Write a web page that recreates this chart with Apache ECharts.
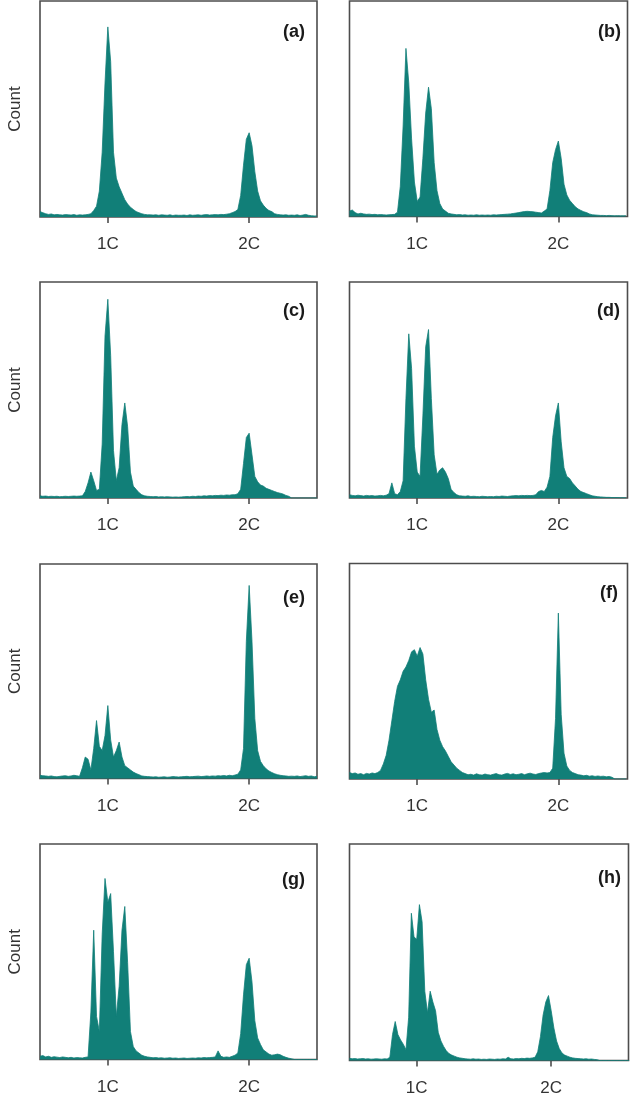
<!DOCTYPE html>
<html><head><meta charset="utf-8">
<script src="https://cdn.jsdelivr.net/npm/echarts@6/dist/echarts.min.js"></script>
<style>html,body{margin:0;padding:0;background:#fff}#c{width:633px;height:1108px}</style>
</head><body><div id="c"></div>
<script>
// ---- data ----
const tickValues = [1, 2];
const tickLabels = ['1C', '2C'];
const panelLabels = ['(a)', '(b)', '(c)', '(d)', '(e)', '(f)', '(g)', '(h)'];
const yName = 'Count';
const binWidth = 0.02;
const binStart = [0.52, 0.52, 0.52, 0.52, 0.52, 0.52, 0.52, 0.50];

const countA = [2.5, 2, 1.5, 1.2, 1.4, 1, 1.2, 1, 0.9, 1.1,
 1, 0.9, 1.1, 0.8, 1, 0.9, 1, 1.2, 1.5, 3,
 5, 12, 30, 62, 88, 72, 30, 18, 14, 11,
 8, 6, 4.5, 3.5, 2.5, 2, 1.5, 1.2, 1, 1,
 0.9, 1, 0.8, 1, 0.9, 0.8, 1, 0.7, 0.9, 0.8,
 0.8, 0.9, 0.7, 1, 0.8, 0.9, 1, 0.8, 1, 1.1,
 0.9, 1, 1.1, 1, 1.2, 1.1, 1.3, 1.5, 2, 2.5,
 3.5, 10, 24, 36, 39, 33, 21, 12, 7.5, 5.5,
 4, 3, 2.5, 1.5, 1.2, 1, 0.9, 1, 0.8, 0.9,
 0.8, 1, 0.7, 0.9, 1.2, 0.8, 0.6, 0.5, 0.5];

const countB = [2.5, 3, 1.8, 1.2, 1.5, 1.2, 1, 1.1, 0.9, 1,
 0.8, 0.9, 0.8, 0.7, 0.8, 0.9, 1, 2, 14, 42,
 78, 62, 36, 16, 7, 9, 27, 48, 60, 50,
 25, 12, 6, 3.5, 2.5, 1.5, 1.2, 1, 0.8, 0.9,
 0.7, 0.8, 0.6, 0.7, 0.6, 0.8, 0.6, 0.7, 0.6, 0.7,
 0.6, 0.8, 0.7, 0.8, 0.9, 1, 1.1, 1.2, 1.4, 1.6,
 1.8, 2.1, 2.3, 2.4, 2.3, 2.2, 2, 1.8, 1.6, 2.5,
 3.5, 12, 25, 31, 35, 27, 15, 10, 7.5, 6,
 4.5, 3.5, 2.8, 2.2, 1.8, 1.2, 0.8, 0.7, 0.6, 0.5,
 0.5, 0.4, 0.5, 0.4, 0.3, 0.4, 0.3, 0.3, 0.3];

const countC = [1, 0.8, 0.9, 0.7, 0.8, 0.7, 0.8, 0.6, 0.7, 0.8,
 0.7, 0.8, 0.9, 0.8, 0.9, 1, 3, 7, 12, 8,
 3.5, 4, 25, 75, 92, 66, 22, 8, 14, 34,
 44, 33, 12, 5.5, 4, 2.5, 1.5, 1, 0.8, 0.7,
 0.6, 0.7, 0.5, 0.6, 0.5, 0.6, 0.5, 0.4, 0.5, 0.4,
 0.5, 0.6, 0.7, 0.6, 0.8, 0.7, 0.9, 0.8, 1, 0.9,
 1.1, 1, 1.2, 1.1, 1.3, 1.2, 1.4, 1.3, 1.5, 1.5,
 2, 4, 16, 28, 30, 20, 10, 7.5, 6, 5.5,
 4.5, 4, 3.5, 3, 2.5, 2.2, 1.8, 1.2, 0.8, 0,
 0, 0, 0, 0, 0, 0, 0, 0, 0];

const countD = [1.5, 1.2, 1, 1.3, 1.1, 0.9, 1.2, 1, 1.1, 0.9,
 1, 1.2, 1, 1.3, 2, 7, 2, 1.5, 3, 8,
 46, 76, 60, 24, 12, 10, 38, 70, 78, 46,
 20, 11, 13, 14, 12, 9, 4, 2.5, 1.5, 1,
 0.9, 0.8, 1, 0.7, 0.8, 0.7, 0.6, 0.8, 0.7, 0.6,
 0.7, 0.6, 0.8, 0.7, 0.9, 0.8, 0.7, 0.9, 1, 1.1,
 1, 1.2, 1.1, 1.2, 1.1, 1.2, 1.5, 3, 3.5, 3,
 5, 10, 28, 38, 44, 26, 14, 10, 9, 7,
 5.5, 4, 3, 2.5, 2, 1.5, 1, 0.8, 0.6, 0.5,
 0.4, 0.3, 0.3, 0.2, 0.2, 0.2, 0.1, 0.1, 0.1];

const countE = [1.5, 1.3, 1.2, 1, 1.2, 0.9, 0.8, 1, 1.2, 1.3,
 1, 1.2, 1.5, 1.3, 1, 5, 10, 9, 4, 14,
 27, 15, 13, 20, 34, 18, 10, 13, 17, 10,
 6, 5, 4, 3, 2.3, 1.8, 1.2, 1, 0.9, 0.8,
 0.7, 0.8, 0.6, 0.7, 0.8, 0.6, 0.7, 0.9, 0.8, 0.7,
 0.8, 0.9, 1, 0.8, 0.9, 1, 1.1, 0.9, 1, 1.2,
 1, 1.2, 1.1, 1.3, 1.2, 1.4, 1.2, 1.5, 1.3, 1.6,
 2, 4, 14, 64, 90, 64, 28, 13, 8, 6,
 4.5, 3.5, 2.8, 2.2, 1.8, 1.5, 1.3, 1.2, 1, 1.1,
 1, 1.2, 0.9, 1.1, 1.3, 1, 1.2, 0.8, 1];

const countF = [3, 2.5, 2.8, 2.2, 2.5, 2, 2.6, 2.3, 2.8, 2.5,
 3, 4, 7, 11, 18, 27, 36, 43, 46, 50,
 52, 55, 59, 60, 57, 61, 58, 46, 37, 31,
 32, 23, 18, 15, 13, 10.5, 8, 6.5, 5, 4,
 3, 2.5, 2, 2.2, 1.8, 2.4, 2, 1.8, 2.3, 2,
 1.8, 2.2, 2.5, 2, 1.8, 2.3, 2.6, 2.1, 2.4, 2,
 2.2, 2.5, 2, 2.4, 2.7, 2.3, 2.1, 2.5, 2.8, 3,
 2.8, 3, 5, 28, 77, 30, 12, 6, 4, 3,
 2.5, 2, 1.8, 1.5, 1.7, 1.3, 1.5, 1.2, 1.4, 1.2,
 1.3, 1, 1.2, 0.8, 0, 0, 0, 0, 0];

const countG = [1.5, 1.8, 1.2, 1.5, 1, 1.3, 1.1, 0.9, 1.2, 1,
 0.8, 1, 0.7, 0.9, 0.8, 0.7, 1, 1.2, 22, 60,
 20, 13, 58, 84, 73, 77, 50, 20, 34, 60,
 71, 45, 13, 6, 4, 3, 2, 1.5, 1.2, 1,
 0.8, 0.9, 0.7, 0.8, 0.6, 0.7, 0.8, 0.6, 0.7, 0.5,
 0.6, 0.7, 0.5, 0.6, 0.7, 0.6, 0.8, 0.7, 0.9, 0.8,
 0.9, 1, 1.2, 4, 1.5, 1, 1.2, 1, 1.5, 2,
 3, 12, 30, 44, 47, 36, 18, 10, 7, 4.5,
 3.5, 2.5, 2, 2.2, 2.5, 2.2, 1.5, 1, 0.6, 0.3,
 0, 0, 0, 0, 0, 0, 0, 0, 0];

const countH = [1, 0.8, 0.9, 0.7, 0.8, 0.9, 0.7, 0.8, 0.6, 0.7,
 0.8, 0.7, 0.6, 0.8, 0.7, 1.5, 12, 18, 12, 9.5,
 7.5, 5, 20, 68, 57, 56, 72, 64, 32, 22,
 32, 27, 23, 13, 9, 6.5, 4.5, 3.2, 2.5, 2,
 1.5, 1.2, 1, 0.8, 0.7, 0.6, 0.8, 0.6, 0.7, 0.5,
 0.6, 0.5, 0.7, 0.6, 0.5, 0.7, 0.6, 0.8, 0.7, 1.5,
 0.8, 0.7, 0.9, 0.8, 1, 0.9, 1.1, 1, 1.2, 1.5,
 4, 11, 21, 27, 30, 23, 15, 9, 5.5, 3.5,
 2.5, 2, 1.5, 1.2, 1, 0.9, 0.8, 0.7, 0.8, 0.6,
 0.7, 0.5, 0.4, 0, 0, 0, 0, 0, 0, 0,
 0, 0, 0, 0, 0];

const panelCounts = [countA, countB, countC, countD, countE, countF, countG, countH];

// ---- layout (positions / styles) ----
const layout = [
  {left: 40,    top: 1,     width: 277, height: 216,   xMin: 0.52, xMax: 2.48,  lx: 305, ly: 32.5, yName: true},
  {left: 349.5, top: 1,     width: 278, height: 215.5, xMin: 0.52, xMax: 2.49,  lx: 621, ly: 32.5},
  {left: 40,    top: 282,   width: 277, height: 216,   xMin: 0.52, xMax: 2.48,  lx: 305, ly: 311.5, yName: true},
  {left: 349.5, top: 282,   width: 278, height: 216,   xMin: 0.52, xMax: 2.49,  lx: 620, ly: 311},
  {left: 40,    top: 564,   width: 277, height: 214.5, xMin: 0.52, xMax: 2.48,  lx: 305, ly: 598.5, yName: true},
  {left: 349.5, top: 563.5, width: 278, height: 215.5, xMin: 0.52, xMax: 2.49,  lx: 618, ly: 593},
  {left: 40,    top: 844,   width: 277, height: 215.5, xMin: 0.52, xMax: 2.48,  lx: 305, ly: 880, yName: true},
  {left: 349.5, top: 844,   width: 279, height: 216.5, xMin: 0.50, xMax: 2.575, lx: 621, ly: 878}
];
const FILL = '#117f78';
const FRAME = '#4d4d4d';
const FONT = '"Liberation Sans", Arial, Helvetica, sans-serif';

const chart = echarts.init(document.getElementById('c'), null, {renderer: 'canvas'});
const grid = [], xAxis = [], yAxis = [], series = [], graphic = [];
layout.forEach((L, k) => {
  grid.push({left: L.left, top: L.top, width: L.width, height: L.height, show: true,
    borderColor: FRAME, borderWidth: 1.6, backgroundColor: '#fff', containLabel: false});
  xAxis.push({type: 'value', gridIndex: k, min: L.xMin, max: L.xMax,
    axisLine: {show: false},
    splitLine: {show: false},
    axisTick: {show: true, customValues: tickValues, length: 6, lineStyle: {color: FRAME, width: 1.6}},
    axisLabel: {show: true, customValues: tickValues, margin: 19, fontSize: 17, color: '#333', fontFamily: FONT,
      formatter: v => tickLabels[tickValues.indexOf(Math.round(v))]}
  });
  yAxis.push({type: 'value', gridIndex: k, min: 0, max: 100,
    axisLine: {show: false}, axisTick: {show: false}, axisLabel: {show: false}, splitLine: {show: false},
    name: L.yName ? yName : '', nameLocation: 'middle', nameGap: 16,
    nameTextStyle: {fontSize: 17, color: '#333', fontFamily: FONT}
  });
  const counts = panelCounts[k];
  const pts = counts.map((c, i) => [+(binStart[k] + i * binWidth).toFixed(3), c]);
  series.push({type: 'line', xAxisIndex: k, yAxisIndex: k, data: pts, showSymbol: false,
    symbol: 'none', clip: true, smooth: false,
    lineStyle: {color: FILL, width: 0.8}, areaStyle: {color: FILL, opacity: 1},
    itemStyle: {color: FILL}, silent: true});
  graphic.push({type: 'text', x: L.lx, y: L.ly, z: 100,
    style: {text: panelLabels[k], align: 'right', verticalAlign: 'middle',
      font: 'bold 18px ' + FONT, fill: '#1a1a1a'}});
});
chart.setOption({animation: false, backgroundColor: '#fff', grid, xAxis, yAxis, series, graphic});
</script></body></html>
